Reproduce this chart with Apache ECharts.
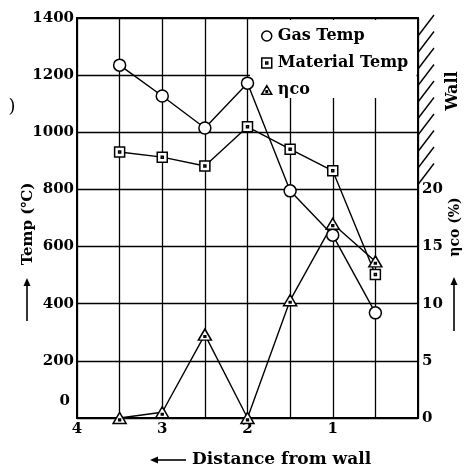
<!DOCTYPE html>
<html>
<head>
<meta charset="utf-8">
<script src="https://cdn.jsdelivr.net/npm/echarts@6/dist/echarts.min.js"></script>
<style>html,body{margin:0;padding:0;background:#fff}#c{width:475px;height:472px}</style>
</head>
<body>
<div id="c"></div>
<script>
// ---- data ----
const distances = [3.5, 3, 2.5, 2, 1.5, 1, 0.5];
const gasTemp = [1235, 1127, 1015, 1172, 795, 640, 368];
const materialTemp = [931, 913, 882, 1019, 941, 865, 502];
const etaCo = [0, 0.5, 7.3, 0, 10.3, 17.0, 13.7];
const xTickLabels = [4, 3, 2, 1];
const rightTickMaxShown = 20;

const FONT = 'DejaVu Serif';
const pair = (xs, ys) => xs.map((x, i) => [x, ys[i]]);

const squareDot = 'path://M0,0H10V10H0Z M4,4H6V6H4Z';
const triDot = 'path://M6,0L12,10.4H0Z M5.2,6.2H6.8V7.8H5.2Z';
const markStyle = { color: '#fff', borderColor: '#000', borderWidth: 1.5 };

const chart = echarts.init(document.getElementById('c'), null, { renderer: 'canvas' });

// decorative hatching for the wall
const hatch = [];
for (let i = 0; i < 10; i++) {
  const y0 = 15 + i * 16.5;
  hatch.push({ type: 'line', shape: { x1: 418, y1: y0 + 21, x2: 434, y2: y0 }, style: { stroke: '#000', lineWidth: 1.4 } });
}

function arrow(x1, y1, x2, y2) {
  const ang = Math.atan2(y2 - y1, x2 - x1);
  const L = 8, W = 3.5;
  const bx = x2 - L * Math.cos(ang), by = y2 - L * Math.sin(ang);
  const px = -Math.sin(ang) * W, py = Math.cos(ang) * W;
  return [
    { type: 'line', shape: { x1, y1, x2: bx, y2: by }, style: { stroke: '#000', lineWidth: 1.6 } },
    { type: 'polygon', shape: { points: [[x2, y2], [bx + px, by + py], [bx - px, by - py]] }, style: { fill: '#000' } }
  ];
}

const textStyleBase = { fontFamily: FONT, fontWeight: 'bold', fill: '#000' };

chart.setOption({
  animation: false,
  backgroundColor: '#fff',
  grid: { left: 77, right: 57, top: 18, bottom: 54, show: true, borderColor: '#000', borderWidth: 2, backgroundColor: 'transparent' },
  xAxis: {
    type: 'value', min: 0, max: 4, interval: 0.5, inverse: true,
    axisLine: { show: true, lineStyle: { color: '#000', width: 2 } },
    axisTick: { show: false },
    splitLine: { show: true, lineStyle: { color: '#000', width: 1.3 } },
    axisLabel: {
      margin: 4, color: '#000', fontFamily: FONT, fontWeight: 'bold', fontSize: 15,
      formatter: v => (xTickLabels.indexOf(v) >= 0 ? String(v) : '')
    }
  },
  yAxis: [
    {
      type: 'value', min: 0, max: 1400, interval: 200, position: 'left',
      axisLine: { show: true, lineStyle: { color: '#000', width: 2 } },
      axisTick: { show: false },
      splitLine: { show: true, lineStyle: { color: '#000', width: 1.3 } },
      axisLabel: {
        margin: 3, color: '#000', fontFamily: FONT, fontWeight: 'bold', fontSize: 15,
        formatter: v => (v === 0 ? '{z|0}' : String(v)),
        rich: { z: { fontFamily: FONT, fontWeight: 'bold', fontSize: 15, color: '#000', padding: [0, 4, 34, 0] } }
      }
    },
    {
      type: 'value', min: 0, max: 35, interval: 5, position: 'right',
      axisLine: { show: true, lineStyle: { color: '#000', width: 2 } },
      axisTick: { show: false },
      splitLine: { show: false },
      axisLabel: {
        margin: 4, color: '#000', fontFamily: FONT, fontWeight: 'bold', fontSize: 15,
        formatter: v => (v <= rightTickMaxShown ? String(v) : '')
      }
    }
  ],
  legend: {
    orient: 'vertical', left: 256, top: 23, itemWidth: 10, itemHeight: 10, itemGap: 11,
    textStyle: { fontFamily: FONT, fontWeight: 'bold', fontSize: 16, lineHeight: 16, color: '#000', padding: [0, 0, 0, 1] },
    data: [
      { name: 'Gas Temp', icon: 'circle', itemStyle: markStyle },
      { name: 'Material Temp', icon: squareDot, itemStyle: markStyle },
      { name: 'ηco', icon: triDot, itemStyle: markStyle }
    ]
  },
  graphic: [
    { type: 'rect', z: 1, shape: { x: 250, y: 20, width: 166.5, height: 78 }, style: { fill: '#fff' } },
    ...hatch,
    { type: 'text', x: 28, y: 224, rotation: Math.PI / 2, style: Object.assign({ text: 'Temp (℃)', fontSize: 15, align: 'center', verticalAlign: 'middle' }, textStyleBase) },
    ...arrow(27, 321, 27, 278),
    { type: 'text', x: 455, y: 227, rotation: Math.PI / 2, style: Object.assign({ text: 'ηco (%)', fontSize: 14, align: 'center', verticalAlign: 'middle' }, textStyleBase) },
    ...arrow(454, 331, 454, 277),
    { type: 'text', x: 453, y: 91, rotation: Math.PI / 2, style: Object.assign({ text: 'Wall', fontSize: 16, align: 'center', verticalAlign: 'middle' }, textStyleBase) },
    { type: 'text', x: 192, y: 460, style: Object.assign({ text: 'Distance from wall', fontSize: 17, align: 'left', verticalAlign: 'middle' }, textStyleBase) },
    ...arrow(186, 460, 150, 460),
    { type: 'text', x: 12, y: 107, style: { text: ')', fontFamily: FONT, fontSize: 18, fill: '#000', align: 'center', verticalAlign: 'middle' } }
  ],
  series: [
    {
      name: 'Gas Temp', type: 'line', yAxisIndex: 0, data: pair(distances, gasTemp),
      symbol: 'circle', symbolSize: 12, itemStyle: markStyle,
      lineStyle: { color: '#000', width: 1.4 }, z: 3
    },
    {
      name: 'Material Temp', type: 'line', yAxisIndex: 0, data: pair(distances, materialTemp),
      symbol: squareDot, symbolSize: 10, itemStyle: markStyle,
      lineStyle: { color: '#000', width: 1.4 }, z: 3
    },
    {
      name: 'ηco', type: 'line', yAxisIndex: 1, data: pair(distances, etaCo),
      symbol: triDot, symbolSize: [13, 11], itemStyle: markStyle,
      lineStyle: { color: '#000', width: 1.4 }, z: 3
    }
  ]
});
</script>
</body>
</html>
